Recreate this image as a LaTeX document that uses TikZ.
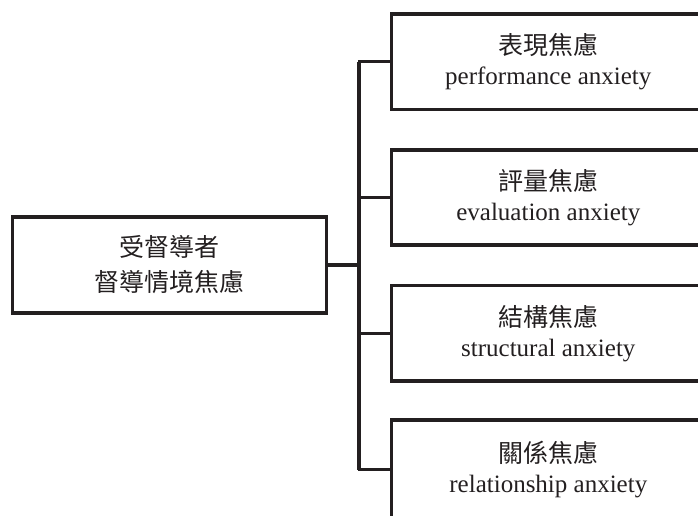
\documentclass[tikz,border=0pt]{standalone}
\usepackage{fontspec}
\setmainfont{Liberation Serif}
\newfontfamily\cjk{Noto Sans CJK TC}
\definecolor{ink}{HTML}{231F20}
\begin{document}
\begin{tikzpicture}[x=1pt,y=-1pt,
  box/.style={draw=ink, line width=3.6pt, minimum width=314pt, minimum height=95.5pt,
    inner sep=0pt, align=center, text=ink, font=\fontsize{25}{30}\selectfont},
  link/.style={draw=ink, line width=3pt, line join=miter}]
\useasboundingbox (0,0) rectangle (698,515);
\clip (0,0) rectangle (698,515);
\node[box, minimum width=314pt, minimum height=96pt, font=\fontsize{25}{35}\selectfont]
  (src) at (169.6,265) {{\cjk 受督導者}\\{\cjk 督導情境焦慮}};
\node[box] (b1) at (548.3,61.7) {{\cjk 表現焦慮}\\performance anxiety};
\node[box] (b2) at (548.3,197.5) {{\cjk 評量焦慮}\\evaluation anxiety};
\node[box] (b3) at (548.3,333.3) {{\cjk 結構焦慮}\\structural anxiety};
\node[box, minimum height=99pt] (b4) at (548.3,469.5) {{\cjk 關係焦慮}\\relationship anxiety};
\coordinate (hub) at (359.3,265);
\draw[link, line width=4.5pt] (src.east) -- (hub);
\draw[link] (b1.west) -- (b1.west -| hub) -- (b4.west -| hub) -- (b4.west);
\draw[link, line width=3.8pt] (b1.west -| hub) -- (b4.west -| hub);
\draw[link] (b2.west -| hub) -- (b2.west);
\draw[link] (b3.west -| hub) -- (b3.west);
\end{tikzpicture}
\end{document}
